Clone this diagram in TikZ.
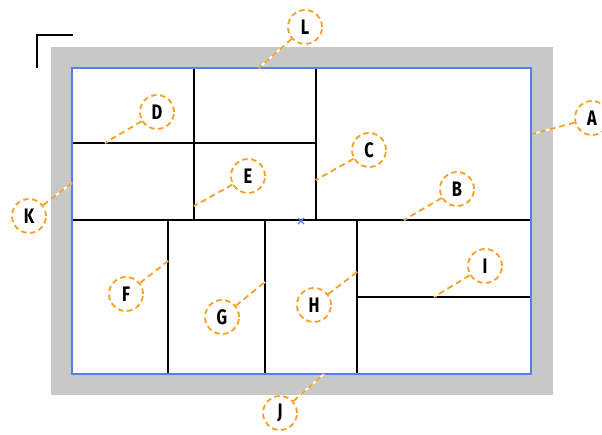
\documentclass[tikz,border=0pt]{standalone}
\usepackage{fontspec}
\setmainfont{Fira Sans}
\usepackage{xcolor}
\usetikzlibrary{positioning}
\definecolor{wallgray}{RGB}{200,200,200}
\definecolor{edgeblue}{RGB}{90,125,230}
\definecolor{callorange}{RGB}{246,160,40}
\newcommand{\lbl}[1]{\scalebox{0.78}[1]{#1}}

\begin{document}
\begin{tikzpicture}[x=1pt, y=-1pt,
    wall/.style={fill=wallgray, draw=none},
    part/.style={draw=black, line width=2pt},
    frame/.style={draw=edgeblue, line width=1.9pt},
    callout/.style={circle, draw=callorange, line width=1.8pt, dash pattern=on 5.5pt off 3.5pt, minimum size=34pt, inner sep=0pt, font=\bfseries\fontsize{21}{21}\selectfont},
    leaderbg/.style={white, line width=1.8pt},
    leader/.style={callorange, line width=1.8pt, dash pattern=on 6pt off 4pt}]

    \useasboundingbox (0,0) rectangle (602,435);

    % wall and corner mark
    \fill [wall] (51,47) rectangle (553,395);
    \fill [white] (72,68) rectangle (531,374);
    \draw [line width=2.4pt] (37,68) -- (37,35) -- (73,35);

    % inner partitions
    \draw [part] (72,220) -- (531,220);
    \draw [part] (72,143) -- (316,143);
    \draw [part] (194,68) -- (194,220);
    \draw [part] (316,68) -- (316,220);
    \draw [part] (168,220) -- (168,374);
    \draw [part] (265,220) -- (265,374);
    \draw [part] (357,220) -- (357,374);
    \draw [part] (357,297) -- (531,297);
    \draw [frame] (72,68) rectangle (531,374);
    \draw [edgeblue, line width=1.3pt] (298,218) -- (304,224) (298,224) -- (304,218);

    % callouts
    \node [callout] (L) at (305,27) {\lbl{L}};
    \node [callout] (A) at (592,118) {\lbl{A}};
    \node [callout] (C) at (369,150) {\lbl{C}};
    \node [callout] (B) at (457,189) {\lbl{B}};
    \node [callout] (D) at (157,112) {\lbl{D}};
    \node [callout] (E) at (248,176) {\lbl{E}};
    \node [callout] (K) at (29,216) {\lbl{K}};
    \node [callout] (F) at (126,294) {\lbl{F}};
    \node [callout] (G) at (222,317) {\lbl{G}};
    \node [callout] (H) at (314,305) {\lbl{H}};
    \node [callout] (I) at (485,266) {\lbl{I}};
    \node [callout] (J) at (280,413) {\lbl{J}};

    \coordinate (pL) at (259,68);
    \coordinate (pA) at (532,134);
    \coordinate (pC) at (316,180);
    \coordinate (pB) at (404,220);
    \coordinate (pD) at (105,143);
    \coordinate (pE) at (194,206);
    \coordinate (pK) at (72,183);
    \coordinate (pF) at (168,261);
    \coordinate (pG) at (265,282);
    \coordinate (pH) at (357,272);
    \coordinate (pI) at (434,297);
    \coordinate (pJ) at (324,374);

    \foreach \n in {L,A,C,B,D,E,K,F,G,H,I,J} {
        \draw [leaderbg] (\n) -- (p\n);
        \draw [leader] (\n) -- (p\n);
    }
\end{tikzpicture}
\end{document}
